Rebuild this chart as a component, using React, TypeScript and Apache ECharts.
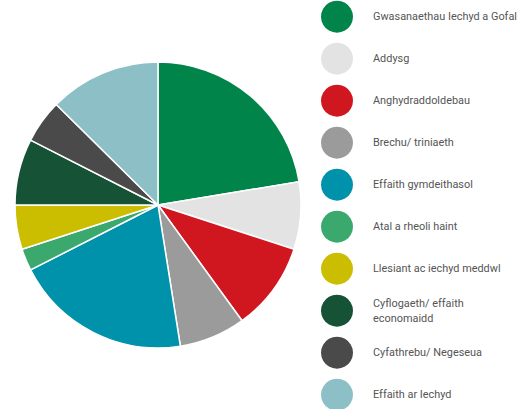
import React, { useEffect, useRef } from "react";
import * as echarts from "echarts";

const categories = [
  "Gwasanaethau Iechyd a Gofal",
  "Addysg",
  "Anghydraddoldebau",
  "Brechu/ triniaeth",
  "Effaith gymdeithasol",
  "Atal a rheoli haint",
  "Llesiant ac iechyd meddwl",
  "Cyflogaeth/ effaith economaidd",
  "Cyfathrebu/ Negeseua",
  "Effaith ar Iechyd",
];
const legendLabels = [
  "Gwasanaethau Iechyd a Gofal",
  "Addysg",
  "Anghydraddoldebau",
  "Brechu/ triniaeth",
  "Effaith gymdeithasol",
  "Atal a rheoli haint",
  "Llesiant ac iechyd meddwl",
  "Cyflogaeth/ effaith\neconomaidd",
  "Cyfathrebu/ Negeseua",
  "Effaith ar Iechyd",
];
const values = [22.4, 7.6, 10.0, 7.5, 20.0, 2.5, 5.0, 7.5, 4.9, 12.6];
const colors = [
  "#00844A",
  "#E3E3E3",
  "#D0161F",
  "#9B9B9B",
  "#0092AA",
  "#3BA96E",
  "#CBBE00",
  "#165235",
  "#4A4A4A",
  "#8CBFC6",
];

export default function App() {
  const ref = useRef<HTMLDivElement>(null);
  useEffect(() => {
    if (!ref.current) return;
    const chart = echarts.init(ref.current, null, { renderer: "svg" });
    chart.setOption({
      animation: false,
      color: colors,
      legend: {
        orient: "vertical",
        left: 321,
        top: 0.7,
        height: 440,
        padding: 0,
        icon: "circle",
        itemWidth: 32,
        itemHeight: 32,
        itemGap: 10,
        selectedMode: false,
        itemStyle: { borderWidth: 0 },
        data: categories,
        formatter: (name: string) => legendLabels[categories.indexOf(name)],
        textStyle: {
          fontFamily: "Roboto",
          fontSize: 10.9,
          color: "#555555",
          lineHeight: 15,
          padding: [0, 0, 0, 15],
        },
      },
      series: [
        {
          type: "pie",
          center: [158, 205],
          radius: 143,
          startAngle: 90,
          clockwise: true,
          label: { show: false },
          labelLine: { show: false },
          emphasis: { disabled: true },
          itemStyle: { borderColor: "#ffffff", borderWidth: 1.5 },
          data: categories.map((c, i) => ({ name: c, value: values[i] })),
        },
      ],
    });
    return () => chart.dispose();
  }, []);
  return (
    <div
      ref={ref}
      style={{ width: 518, height: 409, position: "absolute", left: 0, top: 0 }}
    />
  );
}
